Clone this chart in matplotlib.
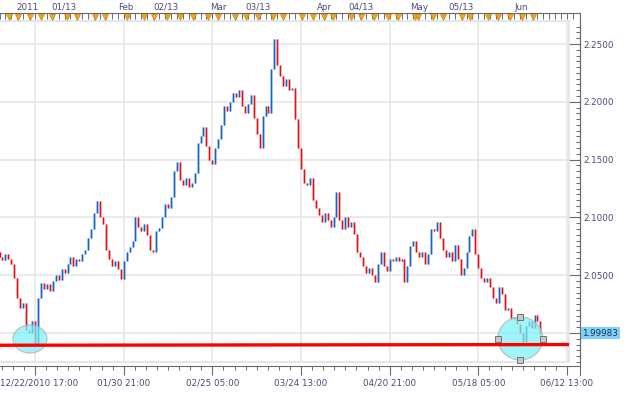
import numpy as np
import matplotlib
matplotlib.use('Agg')
import matplotlib.pyplot as plt
import matplotlib.transforms as mtransforms
from matplotlib.patches import Ellipse
from matplotlib.lines import Line2D
from matplotlib.ticker import MultipleLocator, FuncFormatter

# 4h closes, bar 0 = 12/22/2010 17:00, first bar is index -12
first_bar = -12
first_open = 2.070
closes = [
    2.066, 2.063, 2.068, 2.064, 2.060, 2.048, 2.030, 2.022, 2.026, 2.003,
    2.000, 2.010, 1.991, 2.030, 2.043, 2.038, 2.042, 2.036, 2.045, 2.050,
    2.046, 2.055, 2.052, 2.060, 2.066, 2.058, 2.064, 2.062, 2.068, 2.072,
    2.082, 2.090, 2.104, 2.114, 2.100, 2.094, 2.072, 2.064, 2.058, 2.062,
    2.055, 2.047, 2.062, 2.070, 2.074, 2.080, 2.100, 2.092, 2.088, 2.094,
    2.085, 2.072, 2.070, 2.088, 2.091, 2.100, 2.112, 2.108, 2.118, 2.140,
    2.148, 2.132, 2.128, 2.134, 2.126, 2.130, 2.138, 2.164, 2.170, 2.178,
    2.162, 2.150, 2.146, 2.160, 2.168, 2.180, 2.196, 2.192, 2.200, 2.208,
    2.204, 2.210, 2.196, 2.190, 2.198, 2.206, 2.186, 2.172, 2.160, 2.188,
    2.196, 2.190, 2.228, 2.254, 2.232, 2.222, 2.214, 2.220, 2.210, 2.212,
    2.185, 2.160, 2.142, 2.130, 2.128, 2.134, 2.115, 2.108, 2.102, 2.096,
    2.104, 2.098, 2.092, 2.100, 2.122, 2.098, 2.090, 2.100, 2.092, 2.096,
    2.086, 2.070, 2.066, 2.058, 2.052, 2.056, 2.050, 2.044, 2.060, 2.070,
    2.058, 2.054, 2.064, 2.062, 2.066, 2.062, 2.064, 2.044, 2.058, 2.075,
    2.080, 2.070, 2.066, 2.070, 2.060, 2.068, 2.090, 2.088, 2.096, 2.082,
    2.072, 2.066, 2.070, 2.062, 2.076, 2.064, 2.050, 2.056, 2.070, 2.084,
    2.090, 2.068, 2.056, 2.048, 2.044, 2.048, 2.040, 2.030, 2.026, 2.040,
    2.034, 2.020, 2.022, 2.012, 2.014, 2.008, 2.000, 1.992, 2.006, 2.010,
    2.004, 2.016, 2.010, 1.999,
]
last_price = 1.99983

bottom_labels = ['12/22/2010 17:00', '01/30 21:00', '02/25 05:00', '03/24 13:00',
                 '04/20 21:00', '05/18 05:00', '06/12 13:00']
bottom_ticks = [0, 30, 60, 90, 120, 150, 180]
top_labels = ['2011', '01/13', 'Feb', '02/13', 'Mar', '03/13',
              'Apr', '04/13', 'May', '05/13', 'Jun']
top_label_pos = [-2.4, 9.8, 30.8, 44.3, 61.9, 75.4, 97.8, 110.3, 129.9, 144.1, 164.4]
event_bars = [-8.8, -5.8, -1.7, 2.0, 5.8, 10.8, 14.2, 20.3, 23.7, 31.1, 36.9, 40.3,
              44.6, 49.1, 53.5, 58.5, 61.9, 67.7, 71.4, 75.4, 80.5, 83.9, 90.3, 94.0,
              97.8, 100.8, 106.9, 110.3, 114.7, 119.4, 122.8, 128.6, 129.6, 134.6,
              138.0, 144.5, 147.2, 153.2, 156.6, 160.7, 164.8, 168.5]
y_ticks = [2.00, 2.05, 2.10, 2.15, 2.20, 2.25]

# support line and the two highlighted bottoms
trend_start, trend_end = 1.9894, 1.9900
left_circle = (-1.7, 1.9948, 11.5, 0.0242)
right_circle = (164.2, 1.99524, 15.2, 0.0372)

W, H = 624, 393
ppb = 88.67 / 30  # pixels per bar


def fx(px):
    return px / W


def fy(py):
    return 1 - py / H


plt.rcParams['font.family'] = 'DejaVu Sans'
plt.rcParams['font.size'] = 6.3
txt_col = '#4a4a78'
axis_col = '#6a6a6a'
light = '#dde2ea'

fig = plt.figure(figsize=(W / 100, H / 100), dpi=100)
ax = fig.add_axes([0, fy(362), fx(569), (362 - 21) / H])

closes = np.array(closes)
x = np.arange(len(closes)) + first_bar
opens = np.r_[first_open, closes[:-1]]
lo = np.minimum(opens, closes)
hi = np.maximum(opens, closes)
up = closes >= opens
dn = ~up
ax.vlines(x[up], lo[up], hi[up], color='#90bff0', lw=1.9, zorder=3)
ax.vlines(x[dn], lo[dn], hi[dn], color='#f4a0a2', lw=1.9, zorder=3)
ax.vlines(x[up], lo[up], hi[up], color='#1d5fc4', lw=0.8, zorder=4)
ax.vlines(x[dn], lo[dn], hi[dn], color='#e0101a', lw=0.8, zorder=4)

x0 = -35 / ppb
x1 = x0 + 569 / ppb
y0 = 2.0 - 29 / 1156
y1 = 2.0 + 312 / 1156
ax.set_xlim(x0, x1)
ax.set_ylim(y0, y1)

# highlighted areas
for cx, cy, w, h in [left_circle, right_circle]:
    ax.add_patch(Ellipse((cx, cy), w, h, fc='#7af2f8', ec='#b4b4b4', lw=1.0,
                         alpha=0.72, zorder=5))
ax.plot([x0, x1], [trend_start, trend_end], color='#ff0000', lw=2.4, zorder=6,
        solid_capstyle='butt')
cx, cy, w, h = right_circle
ax.plot([cx, cx - w / 2, cx + w / 2, cx], [cy + h / 2, cy, cy, cy - h / 2], 's',
        ms=3.8, mfc='#c9c9c9', mec='#707070', mew=0.7, zorder=7, clip_on=False)

# axes / grid
ax.set_yticks(y_ticks)
# the 2.0000 label is covered by the last-price tag
ax.yaxis.set_major_formatter(FuncFormatter(lambda v, p: '' if abs(v - 2.0) < 1e-9 else '%.4f' % v))
ax.yaxis.set_minor_locator(MultipleLocator(0.005))
ax.set_xticks(bottom_ticks)
ax.set_xticklabels(bottom_labels)
ax.xaxis.set_minor_locator(MultipleLocator(3.75))
ax.grid(which='major', color='#e6e6e6', lw=1.2, zorder=0)
ax.set_axisbelow(True)

ax.yaxis.tick_right()
ax.spines['left'].set_visible(False)
ax.spines['top'].set_visible(False)
ax.spines['right'].set_position(('outward', 11 * 0.72))
ax.spines['bottom'].set_position(('outward', 4 * 0.72))
for s in ['right', 'bottom']:
    ax.spines[s].set_color(axis_col)
    ax.spines[s].set_linewidth(0.8)
ax.tick_params(axis='y', which='major', direction='in', length=7.9, width=0.8,
               color=axis_col, pad=2.2, labelcolor=txt_col)
ax.tick_params(axis='y', which='minor', direction='in', length=2.9, width=0.7,
               color=axis_col)
ax.tick_params(axis='x', which='major', direction='out', length=6.5, width=0.8,
               color=axis_col, pad=2.5, labelcolor=txt_col)
ax.tick_params(axis='x', which='minor', direction='out', length=3.0, width=0.7,
               color=axis_col)
# nudge the first date label so it is not cut at the left edge
first_lab = ax.get_xticklabels()[0]
first_lab.set_transform(first_lab.get_transform() +
                        mtransforms.ScaledTranslation(0.045, 0, fig.dpi_scale_trans))

# light frame of the plot area
ax.axvline(x1, color=light, lw=1.2, clip_on=False, zorder=1)
ax.axhline(y0, color=light, lw=1.2, clip_on=False, zorder=1)
ax.axhline(y1, color=light, lw=1.2, clip_on=False, zorder=1)

# axis line extensions
fig.add_artist(Line2D([fx(580), fx(580)], [fy(13), fy(375)], transform=fig.transFigure,
                      color=axis_col, lw=0.8))
fig.add_artist(Line2D([0, fx(580)], [fy(13), fy(13)], transform=fig.transFigure,
                      color=axis_col, lw=0.8))
fig.add_artist(Line2D([fx(569), fx(580)], [fy(366), fy(366)], transform=fig.transFigure,
                      color=axis_col, lw=0.8))

# last price tag
tr = mtransforms.blended_transform_factory(fig.transFigure, ax.transData)
ax.text(fx(582.5), last_price, '%.5f' % last_price, transform=tr, ha='left', va='center',
        color='#1f2d5a', fontsize=6.3, clip_on=False, zorder=8,
        bbox=dict(boxstyle='square,pad=0.18', fc='#7fd2f6', ec='none'))

# top date band with event markers
ax_top = fig.add_axes([0, fy(21), fx(580), 8 / H])
ax_top.set_xlim(x0, x0 + 580 / ppb)
ax_top.set_ylim(0, 1)
ax_top.axis('off')
ax_top.vlines(np.arange(-12, 184, 2), 0.3, 1.0, color=axis_col, lw=0.7)
ax_top.plot(event_bars, [0.55] * len(event_bars), 'v', color='#f7a21b', ms=4.2,
            mec='#c87c00', mew=0.4, clip_on=False)
for lab, pos in zip(top_labels, top_label_pos):
    ax_top.text(pos, 1.75, lab, ha='center', va='center', color=txt_col, fontsize=6.3)

fig.savefig('out.png', dpi=100, facecolor='white')
